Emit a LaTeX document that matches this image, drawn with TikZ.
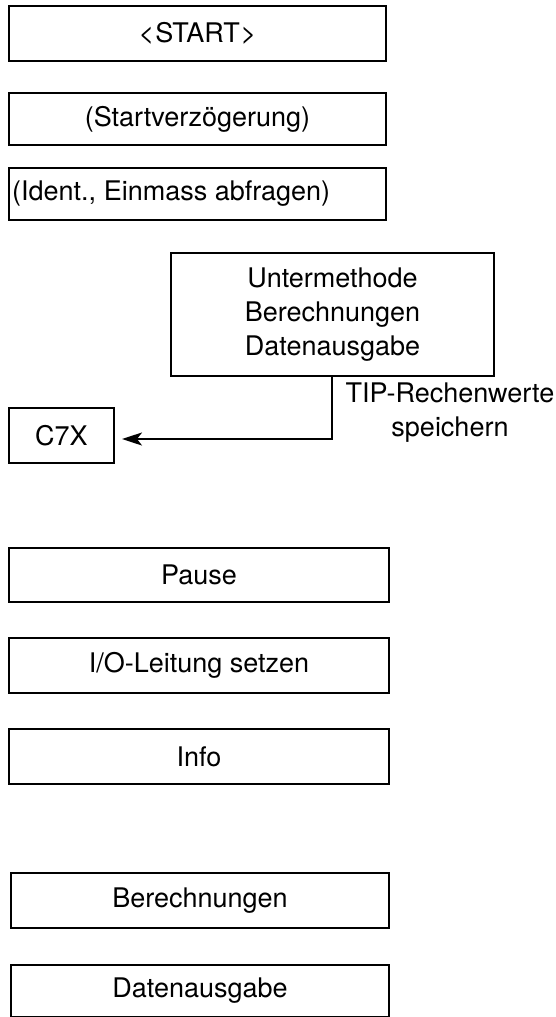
\documentclass[tikz,border=0pt]{standalone}
\usepackage{fontspec}
\setmainfont{TeX Gyre Heros}
\usetikzlibrary{arrows.meta}
\begin{document}
\begin{tikzpicture}[x=1pt,y=-1pt,
  box/.style={draw,line width=2pt,inner sep=0pt},
  lbl/.style={font=\fontsize{27}{34}\selectfont,inner sep=0pt,align=center},
  conn/.style={line width=2pt,-{Stealth[length=20pt,width=13pt,inset=5pt]}}]
\useasboundingbox (0,0) rectangle (555,1017);
% boxes
\node[box,minimum width=377pt,minimum height=55pt,anchor=north west] (start) at (8,5) {};
\node[lbl] at (start.center) {<\kern1pt START\kern1pt >};
\node[box,minimum width=377pt,minimum height=52pt,anchor=north west] (delay) at (8,92) {};
\node[lbl] at (delay.center) {(Startverzögerung)};
\node[box,minimum width=377pt,minimum height=52pt,anchor=north west] (ident) at (8,167) {};
\node[lbl,anchor=west] at ([xshift=4pt]ident.west) {(Ident., Einmass abfragen)};
\node[box,minimum width=323pt,minimum height=123pt,anchor=north west] (unter) at (170,252) {};
\node[lbl] at (unter.center) {Untermethode\\Berechnungen\\Datenausgabe};
\node[box,minimum width=105pt,minimum height=55pt,anchor=north west] (c7x) at (8,407) {};
\node[lbl] at (c7x.center) {C7X};
\node[lbl,anchor=north] (tip) at (450,383) {TIP-Rechenwerte\\speichern};
\coordinate (corner) at (332,439);
\draw[conn,shorten >=7pt] (unter.south -| corner) -- (corner) -- (c7x.east |- corner);
\node[box,minimum width=380pt,minimum height=54pt,anchor=north west] (pause) at (8,547) {};
\node[lbl] at (pause.center) {Pause};
\node[box,minimum width=380pt,minimum height=55pt,anchor=north west] (io) at (8,637) {};
\node[lbl] at (io.center) {I/O-Leitung setzen};
\node[box,minimum width=380pt,minimum height=55pt,anchor=north west] (info) at (8,728) {};
\node[lbl] at (info.center) {Info};
\node[box,minimum width=378pt,minimum height=55pt,anchor=north west] (ber) at (10,872) {};
\node[lbl] at (ber.center) {Berechnungen};
\node[box,minimum width=378pt,minimum height=52pt,anchor=north west] (dat) at (10,964) {};
\node[lbl] at (dat.center) {Datenausgabe};
\end{tikzpicture}
\end{document}
